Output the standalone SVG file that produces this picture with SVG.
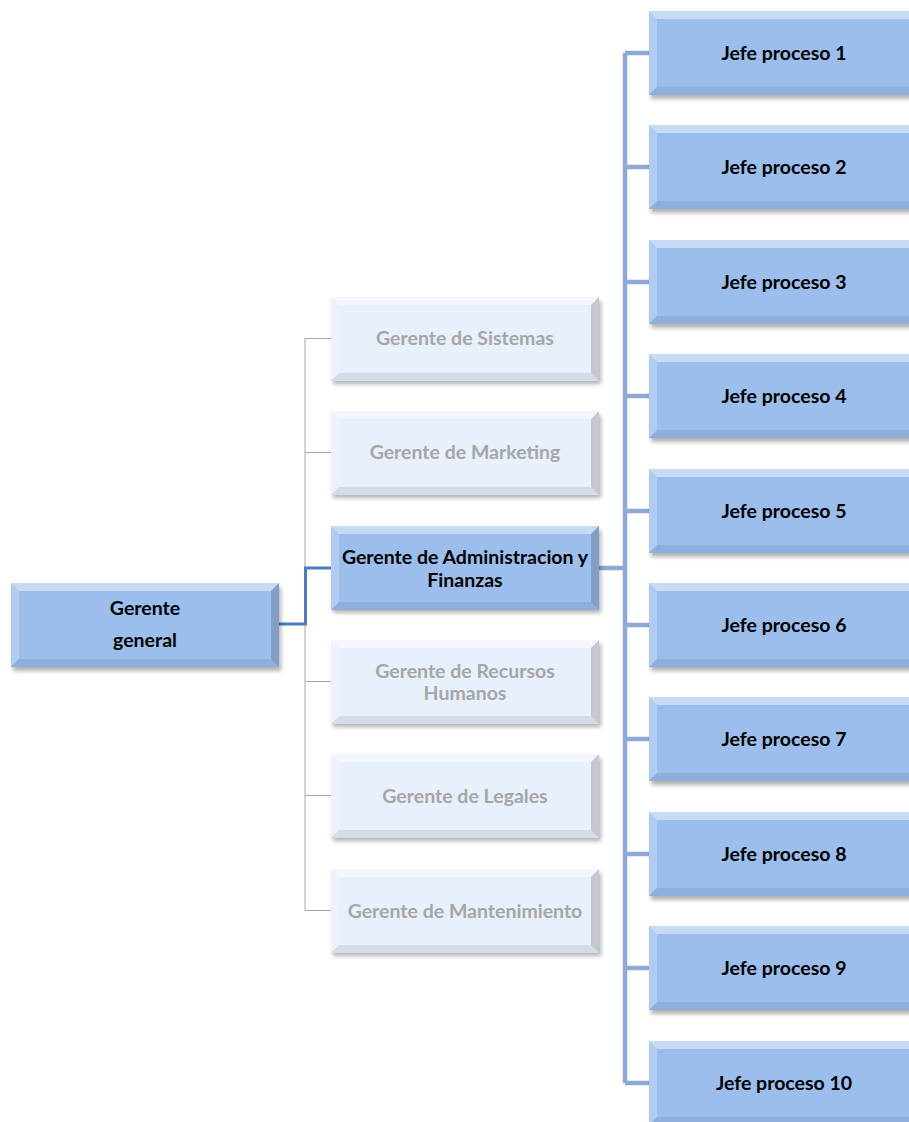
<svg xmlns="http://www.w3.org/2000/svg" xmlns:xlink="http://www.w3.org/1999/xlink" width="909" height="1122" viewBox="0 0 909 1122">
<style>
.sh{fill:#000;opacity:0.3;filter:url(#blur)}
.blue{fill:#9BBEED}
.pale{fill:#E7F0FB}
.tb{font-family:Lato,"Open Sans","Liberation Sans",sans-serif;font-weight:bold;font-size:19.5px;fill:#000;text-anchor:middle}
.tg{font-family:Lato,"Open Sans","Liberation Sans",sans-serif;font-weight:bold;font-size:19.5px;fill:#A6A6A6;text-anchor:middle}
.gl{fill:none;stroke:#A6A6A6;stroke-width:1}
.bl{fill:none;stroke:#4F7CBC;stroke-width:3}
.jl{fill:none;stroke:#8FA9D6;stroke-width:4.5}
</style>
<defs>
<filter id="blur" x="-10%" y="-20%" width="120%" height="150%"><feGaussianBlur stdDeviation="2"/></filter>
<g id="bevel">
<polygon points="0,0 268,0 260,8 8,8" fill="#fff" opacity="0.45"/>
<polygon points="0,0 8,8 8,76 0,84" fill="#fff" opacity="0.22"/>
<polygon points="0,84 8,76 260,76 268,84" fill="#000" opacity="0.08"/>
<polygon points="268,0 268,84 260,76 260,8" fill="#000" opacity="0.16"/>
</g>
</defs>
<g id="connectors">
<path class="gl" d="M305,338.5 V910.5 M305,338.5 H331 M305,452.5 H331 M305,681.5 H331 M305,795.5 H331 M305,910.5 H331"/>
<path class="bl" d="M279,624 H305.5 V568 H331"/>
<path class="jl" d="M599,568 H625 M625,53 V1083 M625,53 H649 M625,167 H649 M625,282 H649 M625,396 H649 M625,511 H649 M625,625 H649 M625,739 H649 M625,854 H649 M625,968 H649 M625,1083 H649"/>
</g>
<g id="gerente-general" transform="translate(11,583)">
<rect class="sh" x="2" y="4" width="268" height="84"/><rect class="blue" width="268" height="84"/><use xlink:href="#bevel"/>
<text class="tb" x="134" y="32">Gerente</text><text class="tb" x="134" y="64">general</text>
</g>
<g id="gerente-sistemas" transform="translate(331,297)">
<rect class="sh" x="2" y="4" width="268" height="83"/><rect class="pale" width="268" height="84"/><use xlink:href="#bevel"/>
<text class="tg" x="134" y="48">Gerente de Sistemas</text>
</g>
<g id="gerente-marketing" transform="translate(331,411)">
<rect class="sh" x="2" y="4" width="268" height="83"/><rect class="pale" width="268" height="84"/><use xlink:href="#bevel"/>
<text class="tg" x="134" y="48">Gerente de Marketing</text>
</g>
<g id="gerente-administracion" transform="translate(331,526)">
<rect class="sh" x="2" y="4" width="268" height="83"/><rect class="blue" width="268" height="84"/><use xlink:href="#bevel"/>
<text class="tb" x="134" y="38">Gerente de Administracion y</text><text class="tb" x="134" y="61">Finanzas</text>
</g>
<g id="gerente-rrhh" transform="translate(331,640)">
<rect class="sh" x="2" y="4" width="268" height="83"/><rect class="pale" width="268" height="84"/><use xlink:href="#bevel"/>
<text class="tg" x="134" y="38">Gerente de Recursos</text><text class="tg" x="134" y="60">Humanos</text>
</g>
<g id="gerente-legales" transform="translate(331,754)">
<rect class="sh" x="2" y="4" width="268" height="83"/><rect class="pale" width="268" height="84"/><use xlink:href="#bevel"/>
<text class="tg" x="134" y="49">Gerente de Legales</text>
</g>
<g id="gerente-mantenimiento" transform="translate(331,869)">
<rect class="sh" x="2" y="4" width="268" height="83"/><rect class="pale" width="268" height="84"/><use xlink:href="#bevel"/>
<text class="tg" x="134" y="49">Gerente de Mantenimiento</text>
</g>
<g id="jefe-1" transform="translate(649,11)"><rect class="sh" x="2" y="4" width="268" height="84"/><rect class="blue" width="268" height="84"/><use xlink:href="#bevel"/><text class="tb" x="135" y="49">Jefe proceso 1</text></g>
<g id="jefe-2" transform="translate(649,125)"><rect class="sh" x="2" y="4" width="268" height="84"/><rect class="blue" width="268" height="84"/><use xlink:href="#bevel"/><text class="tb" x="135" y="49">Jefe proceso 2</text></g>
<g id="jefe-3" transform="translate(649,240)"><rect class="sh" x="2" y="4" width="268" height="84"/><rect class="blue" width="268" height="84"/><use xlink:href="#bevel"/><text class="tb" x="135" y="49">Jefe proceso 3</text></g>
<g id="jefe-4" transform="translate(649,354)"><rect class="sh" x="2" y="4" width="268" height="84"/><rect class="blue" width="268" height="84"/><use xlink:href="#bevel"/><text class="tb" x="135" y="49">Jefe proceso 4</text></g>
<g id="jefe-5" transform="translate(649,469)"><rect class="sh" x="2" y="4" width="268" height="84"/><rect class="blue" width="268" height="84"/><use xlink:href="#bevel"/><text class="tb" x="135" y="49">Jefe proceso 5</text></g>
<g id="jefe-6" transform="translate(649,583)"><rect class="sh" x="2" y="4" width="268" height="84"/><rect class="blue" width="268" height="84"/><use xlink:href="#bevel"/><text class="tb" x="135" y="49">Jefe proceso 6</text></g>
<g id="jefe-7" transform="translate(649,697)"><rect class="sh" x="2" y="4" width="268" height="84"/><rect class="blue" width="268" height="84"/><use xlink:href="#bevel"/><text class="tb" x="135" y="49">Jefe proceso 7</text></g>
<g id="jefe-8" transform="translate(649,812)"><rect class="sh" x="2" y="4" width="268" height="84"/><rect class="blue" width="268" height="84"/><use xlink:href="#bevel"/><text class="tb" x="135" y="49">Jefe proceso 8</text></g>
<g id="jefe-9" transform="translate(649,926)"><rect class="sh" x="2" y="4" width="268" height="84"/><rect class="blue" width="268" height="84"/><use xlink:href="#bevel"/><text class="tb" x="135" y="49">Jefe proceso 9</text></g>
<g id="jefe-10" transform="translate(649,1041)"><rect class="sh" x="2" y="4" width="268" height="84"/><rect class="blue" width="268" height="84"/><use xlink:href="#bevel"/><text class="tb" x="135" y="49">Jefe proceso 10</text></g>
</svg>
